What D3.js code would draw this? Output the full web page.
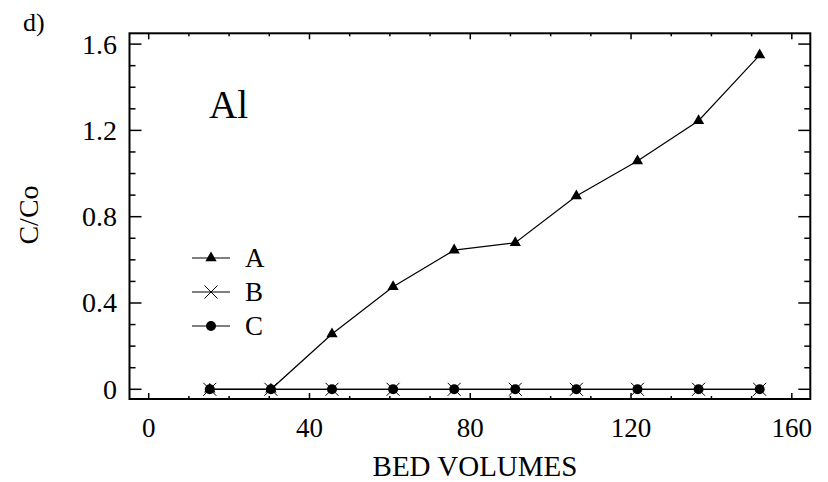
<!DOCTYPE html>
<html><head><meta charset="utf-8">
<script src="https://cdn.jsdelivr.net/npm/d3@7"></script>
<style>body{margin:0;background:#fff}svg{display:block}text{font-family:"Liberation Serif","Times New Roman",serif;fill:#000}</style>
</head><body><svg id="c" width="828" height="482"></svg>
<script>
const bedVolumes = [15.2, 30.4, 45.6, 60.8, 76.0, 91.2, 106.4, 121.6, 136.8, 152.0];
const seriesA = [0, 0, 0.256, 0.475, 0.645, 0.679, 0.896, 1.058, 1.245, 1.549];
const seriesB = [0, 0, 0, 0, 0, 0, 0, 0, 0, 0];
const seriesC = [0, 0, 0, 0, 0, 0, 0, 0, 0, 0];
const xTicks = [0, 40, 80, 120, 160];
const yTicks = [0, 0.4, 0.8, 1.2, 1.6];
const seriesNames = ["A", "B", "C"];

const svg = d3.select("#c");
const L = 129.5, R = 810.3, T = 33.3, B = 399;
const x = d3.scaleLinear().domain([-4.78, 164.6]).range([L, R]);
const y = d3.scaleLinear().domain([-0.045, 1.65]).range([B, T]);

svg.append("rect").attr("x", L).attr("y", T).attr("width", R - L).attr("height", B - T)
  .attr("fill", "none").attr("stroke", "#000").attr("stroke-width", 2);

const xMinor = d3.range(0, 161, 10);
const yMinor = d3.range(0, 1.61, 0.1);
const tickG = svg.append("g").attr("stroke", "#000").attr("stroke-width", 1.5);
xMinor.forEach(v => {
  const major = Math.abs(v % 40) < 1e-6;
  const len = major ? 6 : 3;
  tickG.append("line").attr("x1", x(v)).attr("x2", x(v)).attr("y1", B).attr("y2", B - len);
  tickG.append("line").attr("x1", x(v)).attr("x2", x(v)).attr("y1", T).attr("y2", T + len);
});
yMinor.forEach(v => {
  const major = Math.abs(Math.round(v * 10) % 4) === 0;
  const len = major ? 12 : 6;
  tickG.append("line").attr("y1", y(v)).attr("y2", y(v)).attr("x1", L).attr("x2", L + len);
  tickG.append("line").attr("y1", y(v)).attr("y2", y(v)).attr("x1", R).attr("x2", R - len);
});

svg.append("g").selectAll("text").data(xTicks).join("text")
  .attr("x", d => x(d)).attr("y", 437).attr("text-anchor", "middle")
  .attr("font-size", 27).text(d => d);
svg.append("g").selectAll("text").data(yTicks).join("text")
  .attr("x", 117).attr("y", d => y(d) + 9.5).attr("text-anchor", "end")
  .attr("font-size", 28).text(d => d === 0 ? "0" : d.toFixed(1));

svg.append("text").attr("x", 475).attr("y", 476).attr("text-anchor", "middle")
  .attr("font-size", 29).text("BED VOLUMES");
svg.append("text").attr("transform", "translate(38,215) rotate(-90)").attr("text-anchor", "middle")
  .attr("font-size", 28).text("C/Co");
svg.append("text").attr("x", 23).attr("y", 31).attr("font-size", 26).text("d)");
svg.append("text").attr("x", 209).attr("y", 118).attr("font-size", 39).text("Al");

const line = d3.line().x(d => x(d[0])).y(d => y(d[1]));
const data = [seriesA, seriesB, seriesC].map(s => bedVolumes.map((v, i) => [v, s[i]]));
const tri = d3.symbol().type(d3.symbolTriangle).size(55);

function drawMarker(g, type, cx, cy) {
  if (type === 0) {
    g.append("path").attr("d", tri()).attr("transform", `translate(${cx},${cy})`).attr("fill", "#000");
  } else if (type === 1) {
    const s = 6.5;
    g.append("path").attr("d", `M${cx - s},${cy - s}L${cx + s},${cy + s}M${cx - s},${cy + s}L${cx + s},${cy - s}`)
      .attr("stroke", "#000").attr("stroke-width", 1).attr("fill", "none");
  } else {
    g.append("circle").attr("cx", cx).attr("cy", cy).attr("r", 5).attr("fill", "#000");
  }
}

const plot = svg.append("g");
data.forEach(d => {
  plot.append("path").attr("d", line(d)).attr("fill", "none").attr("stroke", "#000").attr("stroke-width", 1.2);
});
[2, 0, 1].forEach(k => {
  data[k].forEach(p => drawMarker(plot, k, x(p[0]), y(p[1])));
});

const legY = [258, 292, 326];
seriesNames.forEach((n, k) => {
  const g = svg.append("g");
  g.append("line").attr("x1", 192).attr("x2", 230).attr("y1", legY[k]).attr("y2", legY[k])
    .attr("stroke", "#000").attr("stroke-width", 1.2);
  drawMarker(g, k, 211, legY[k]);
  g.append("text").attr("x", 245).attr("y", legY[k] + 9).attr("font-size", 27).text(n);
});
</script></body></html>
